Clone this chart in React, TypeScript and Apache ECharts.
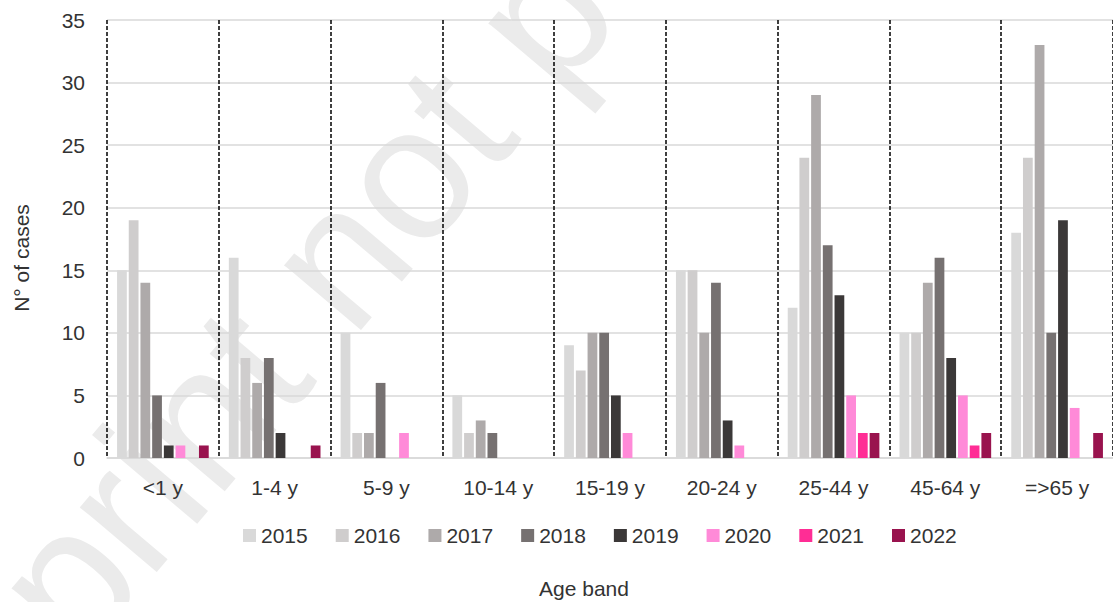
import React, { useEffect, useRef } from "react";
import * as echarts from "echarts";

const categories = ["<1 y", "1-4 y", "5-9 y", "10-14 y", "15-19 y", "20-24 y", "25-44 y", "45-64 y", "=>65 y"];
const years = ["2015", "2016", "2017", "2018", "2019", "2020", "2021", "2022"];
const v2015 = [15, 16, 10, 5, 9, 15, 12, 10, 18];
const v2016 = [19, 8, 2, 2, 7, 15, 24, 10, 24];
const v2017 = [14, 6, 2, 3, 10, 10, 29, 14, 33];
const v2018 = [5, 8, 6, 2, 10, 14, 17, 16, 10];
const v2019 = [1, 2, 0, 0, 5, 3, 13, 8, 19];
const v2020 = [1, 0, 2, 0, 2, 1, 5, 5, 4];
const v2021 = [0, 0, 0, 0, 0, 0, 2, 1, 0];
const v2022 = [1, 1, 0, 0, 0, 0, 2, 2, 2];
const seriesValues = [v2015, v2016, v2017, v2018, v2019, v2020, v2021, v2022];
const colors = ["#d9d9d9", "#cfcdcd", "#aeaaaa", "#767171", "#3b3838", "#ff8ad8", "#ff2d95", "#99134e"];
const yTicks = [0, 5, 10, 15, 20, 25, 30, 35];

export default function App() {
  const ref = useRef<HTMLDivElement>(null);
  useEffect(() => {
    if (!ref.current) return;
    const chart = echarts.init(ref.current, null, { renderer: "svg" });
    const font = "'Liberation Sans', Arial, sans-serif";
    chart.setOption({
      animation: false,
      textStyle: { fontFamily: font },
      color: colors,
      grid: { left: 107, top: 20, width: 1011, bottom: 144, containLabel: false },
      legend: {
        data: years,
        left: 238,
        top: 520,
        itemWidth: 13,
        itemHeight: 13,
        itemGap: 28,
        icon: "rect",
        textStyle: { fontSize: 21, color: "#333", fontFamily: font },
      },
      xAxis: {
        type: "category",
        data: categories,
        axisLine: { show: true, lineStyle: { color: "#d9d9d9", width: 1.5 } },
        axisTick: { show: false },
        axisLabel: { fontSize: 21, color: "#333", margin: 19, fontFamily: font },
        splitLine: { show: true, lineStyle: { color: "#000", type: [4, 2], width: 1.5 } },
      },
      yAxis: {
        type: "value",
        min: yTicks[0],
        max: yTicks[yTicks.length - 1],
        interval: 5,
        axisLine: { show: false },
        axisTick: { show: false },
        axisLabel: { fontSize: 21, color: "#333", margin: 22, fontFamily: font },
        splitLine: { show: true, lineStyle: { color: "#d9d9d9", width: 1.5 } },
      },
      series: years.map((y, i) => ({
        name: y,
        type: "bar",
        data: seriesValues[i],
        barCategoryGap: "18%",
        barGap: "20%",
        itemStyle: { color: colors[i] },
      })),
      graphic: [
        {
          type: "text",
          x: -161,
          y: 846,
          rotation: 0.87,
          silent: true,
          z: -10,
          style: {
            text: "Preprint not peer reviewed",
            fill: "#ebebeb",
            font: `190px ${font}`,
            textVerticalAlign: "middle",
          },
        },
        {
          type: "text",
          x: 584,
          y: 588,
          style: { text: "Age band", fill: "#333", font: `21px ${font}`, textAlign: "center", textVerticalAlign: "middle" },
        },
        {
          type: "text",
          x: 21,
          y: 258,
          rotation: Math.PI / 2,
          style: { text: "N° of cases", fill: "#333", font: `21px ${font}`, textAlign: "center", textVerticalAlign: "middle" },
        },
      ],
    });
    return () => chart.dispose();
  }, []);
  return <div ref={ref} style={{ position: "absolute", left: 0, top: 0, width: 1113, height: 602 }} />;
}
